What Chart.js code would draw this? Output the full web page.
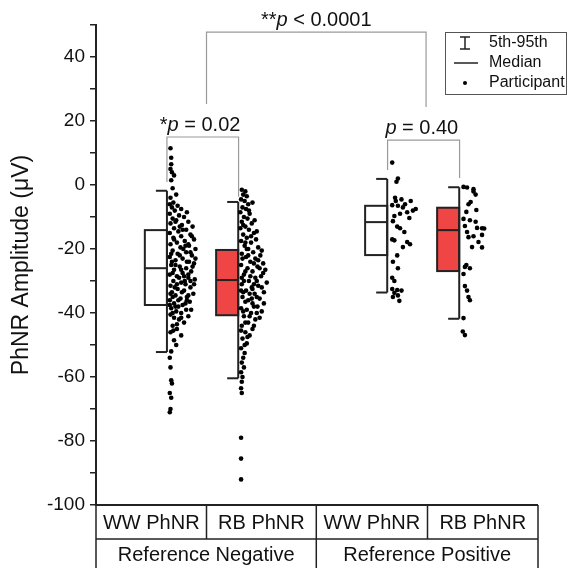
<!DOCTYPE html>
<html>
<head>
<meta charset="utf-8">
<script src="https://cdn.jsdelivr.net/npm/chart.js@4/dist/chart.umd.min.js"></script>
<style>
  html, body { margin: 0; padding: 0; background: #fff; }
  #wrap { width: 568px; height: 568px; }
</style>
</head>
<body>
<div id="wrap"><canvas id="chart"></canvas></div>
<script>
// categories
const groupNames = ['WW PhNR', 'RB PhNR', 'WW PhNR', 'RB PhNR'];
const refNames = ['Reference Negative', 'Reference Positive'];
const groupPos = [0.84, 1.84, 3.93, 4.94];
const fills = ['#ffffff', '#ef4545', '#ffffff', '#ef4545'];

// box stats (5th, 25th, median, 75th, 95th)
const p05 = [-52.2, -60.4, -33.6, -41.8];
const q1 = [-37.5, -40.7, -21.9, -26.9];
const med = [-26.0, -29.7, -11.6, -14.1];
const q3 = [-14.1, -20.3, -6.5, -7.1];
const p95 = [-1.8, -5.3, 1.9, -0.7];

// participants: [offset right of whisker, amplitude]
const wwNeg = [
  [0.05,11.5],[0.06,8.5],[0.06,6.5],[0.05,5],[0.07,4],[0.1,3],[0.06,1.5],[0.08,-1],[0.13,-3],[0.05,-4],
  [0.09,-5.5],[0.04,-6],[0.15,-6.5],[0.07,-7],[0.2,-7.5],[0.11,-8],[0.04,-9],[0.17,-9.5],[0.24,-10],[0.08,-10.5],
  [0.13,-11],[0.3,-11.5],[0.05,-12],[0.21,-12.5],[0.36,-13],[0.1,-13.5],[0.27,-14],[0.16,-14.5],[0.04,-15],[0.33,-15.5],
  [0.2,-16],[0.09,-16.5],[0.38,-17],[0.25,-17.5],[0.14,-18],[0.05,-18.5],[0.31,-19],[0.19,-19.5],[0.4,-20],[0.08,-20.5],
  [0.27,-21],[0.15,-21.5],[0.35,-22],[0.04,-22.5],[0.22,-23],[0.12,-23.5],[0.31,-24],[0.38,-24.5],[0.06,-25],[0.18,-25.5],
  [0.27,-26],[0.1,-26.5],[0.34,-27],[0.22,-27.5],[0.04,-28],[0.14,-28.5],[0.3,-29],[0.39,-29.5],[0.09,-30],[0.2,-30.5],
  [0.26,-31],[0.05,-31.5],[0.33,-32],[0.15,-32.5],[0.24,-33],[0.07,-33.5],[0.37,-34],[0.12,-34.5],[0.28,-35],[0.19,-35.5],
  [0.04,-36],[0.32,-36.5],[0.1,-37],[0.22,-37.5],[0.16,-38],[0.06,-38.5],[0.27,-39],[0.13,-39.5],[0.2,-40],[0.05,-40.5],
  [0.3,-41],[0.1,-41.5],[0.17,-42],[0.24,-43],[0.08,-44],[0.14,-45],[0.05,-46],[0.2,-47],[0.1,-48.5],[0.13,-50],
  [0.06,-52],[0.04,-54],[0.05,-57],[0.06,-61],[0.07,-62],[0.04,-65],[0.06,-66.5],[0.05,-70],[0.04,-71],
  [0.28,-8.5],[0.12,-11.5],[0.22,-14],[0.35,-16],[0.1,-17],[0.3,-18.5],[0.23,-20],[0.06,-21.5],[0.18,-22],[0.4,-23],
  [0.28,-24],[0.12,-25],[0.36,-25.5],[0.2,-26.5],[0.08,-27.5],[0.3,-28],[0.17,-29],[0.25,-30],[0.38,-31],[0.11,-32],
  [0.21,-33.5],[0.3,-34.5],[0.08,-35],[0.16,-36],[0.26,-37],[0.04,-37.5],[0.12,-38],[0.34,-39],[0.08,-40],[0.2,-41.5],
  [0.14,-43.5],[0.09,-45.5],[0.18,-13],[0.26,-19],[0.33,-21],[0.07,-24],[0.24,-28.5],[0.33,-30],[0.14,-31],[0.05,-34],
  [0.28,-36]
];
const rbNeg = [
  [0.05,-1.5],[0.1,-2],[0.07,-3],[0.12,-3.5],[0.04,-4.5],[0.09,-5],[0.14,-6],[0.06,-7],[0.11,-7.5],[0.03,-8.5],
  [0.16,-9],[0.08,-10],[0.13,-10.5],[0.05,-11.5],[0.19,-12],[0.1,-13],[0.03,-13.5],[0.15,-14],[0.22,-15],[0.07,-15.5],
  [0.12,-16.5],[0.25,-17],[0.04,-17.5],[0.18,-18],[0.09,-19],[0.28,-19.5],[0.14,-20],[0.21,-21],[0.05,-21.5],[0.31,-22],
  [0.11,-22.5],[0.24,-23],[0.17,-24],[0.35,-24.5],[0.04,-25],[0.27,-25.5],[0.13,-26],[0.38,-26.5],[0.2,-27],[0.08,-28],
  [0.32,-28.5],[0.24,-29],[0.15,-30],[0.4,-30.5],[0.05,-31],[0.28,-31.5],[0.19,-32],[0.11,-33],[0.36,-33.5],[0.23,-34],
  [0.06,-35],[0.3,-35.5],[0.14,-36],[0.2,-37],[0.27,-38],[0.04,-38.5],[0.12,-39],[0.33,-39.5],[0.18,-40],[0.08,-41],
  [0.24,-42],[0.14,-43],[0.05,-44],[0.2,-45],[0.1,-46],[0.16,-47],[0.06,-48],[0.12,-49.5],[0.04,-51],[0.09,-52.5],
  [0.07,-54],[0.05,-55.5],[0.08,-57],[0.04,-58.5],[0.06,-60],[0.05,-61.5],[0.04,-63.5],[0.05,-65],[0.04,-79],[0.04,-85.5],
  [0.04,-92],
  [0.2,-5.5],[0.15,-8],[0.23,-11],[0.07,-12.5],[0.26,-14.5],[0.18,-16],[0.1,-18],[0.33,-20.5],[0.06,-23],[0.22,-24.5],
  [0.3,-26],[0.1,-27],[0.35,-27.5],[0.17,-28.5],[0.26,-30],[0.08,-30],[0.22,-31],[0.33,-32],[0.04,-33],[0.16,-34],
  [0.26,-35],[0.1,-36.5],[0.36,-37],[0.22,-38],[0.07,-39.5],[0.16,-41],[0.3,-41.5],[0.1,-43],[0.22,-44],[0.04,-45.5],
  [0.13,-47.5],[0.09,-50],[0.14,-22],[0.28,-23.5],[0.05,-29],[0.19,-35.5],[0.12,-20],[0.07,-33.5],[0.26,-40],[0.2,-32.5]
];
const wwPos = [
  [0.07,7],[0.15,2],[0.13,1],[0.11,-4],[0.2,-4.5],[0.33,-5],[0.07,-6.3],[0.15,-6.5],[0.22,-7],[0.36,-8],
  [0.28,-8.5],[0.18,-9],[0.1,-9.7],[0.31,-10.3],[0.08,-11.3],[0.14,-13],[0.18,-13.5],[0.24,-14.7],[0.07,-17],[0.1,-17.3],
  [0.28,-17.8],[0.32,-18.5],[0.22,-19.4],[0.14,-22],[0.08,-24],[0.15,-26],[0.07,-29],[0.1,-30],[0.07,-32.5],[0.14,-32.8],
  [0.2,-33],[0.1,-33.7],[0.15,-34.5],[0.08,-35],[0.17,-36.2],[0.4,-7.5],[0.25,-6],[0.12,-5]
];
const rbPos = [
  [0.06,-0.6],[0.11,-0.8],[0.2,-1.3],[0.2,-2],[0.23,-3],[0.16,-5.3],[0.13,-6],[0.1,-8.4],[0.24,-7.8],[0.06,-10.6],
  [0.15,-11],[0.23,-11.5],[0.08,-12.8],[0.25,-13.4],[0.32,-13.5],[0.35,-13.6],[0.11,-14.7],[0.2,-16],[0.32,-15.6],[0.13,-16.3],
  [0.27,-17.8],[0.18,-19.4],[0.32,-19.5],[0.08,-25.6],[0.15,-26],[0.06,-27.8],[0.08,-31.6],[0.11,-33],[0.13,-35],[0.15,-36],
  [0.06,-41.6],[0.08,-46.9],[0.05,-45.8],[0.1,-25]
];
const participants = [wwNeg, rbNeg, wwPos, rbPos];

// significance brackets: [x1, x2, yTop, yLeftEnd, yRightEnd, labelX]
const brackets = [
  [1.55, 4.63, 47.8, 25.3, 24.4, 3.09],
  [0.995, 2.0, 15, 0.9, -3.7, 1.46],
  [4.09, 5.1, 14, 4.7, 2.2, 4.57]
];
// label parts: [text, italic]
const pLabels = [
  [['**', false], ['p', true], [' < 0.0001', false]],
  [['*', false], ['p', true], [' = 0.02', false]],
  [['p', true], [' = 0.40', false]]
];

// table cell edges (x units)
const cellEdges = [0, 1.55, 3.09, 4.65, 6.2];

const BOX_HALF = 0.155;
const FONT = "'Liberation Sans', Arial, sans-serif";
const INK = '#222';

const datasets = participants.map((pts, i) => ({
  label: groupNames[i],
  data: pts.map(p => ({ x: groupPos[i] + BOX_HALF + p[0], y: p[1] })),
  backgroundColor: '#000',
  borderWidth: 0,
  pointRadius: 2.3,
  pointHoverRadius: 2.3
}));

function line(ctx, x1, y1, x2, y2) {
  ctx.beginPath();
  ctx.moveTo(x1, y1);
  ctx.lineTo(x2, y2);
  ctx.stroke();
}

function richText(ctx, parts, cx, baseline, size) {
  let w = 0;
  parts.forEach(p => {
    ctx.font = (p[1] ? 'italic ' : '') + size + 'px ' + FONT;
    w += ctx.measureText(p[0]).width;
  });
  let x = cx - w / 2;
  ctx.textAlign = 'left';
  ctx.textBaseline = 'alphabetic';
  parts.forEach(p => {
    ctx.font = (p[1] ? 'italic ' : '') + size + 'px ' + FONT;
    ctx.fillText(p[0], x, baseline);
    x += ctx.measureText(p[0]).width;
  });
}

const boxPlugin = {
  id: 'boxes',
  beforeDatasetsDraw(chart) {
    const ctx = chart.ctx;
    const xs = chart.scales.x, ys = chart.scales.y;
    ctx.save();
    ctx.strokeStyle = INK;
    ctx.lineWidth = 2;
    groupPos.forEach((g, i) => {
      const xl = xs.getPixelForValue(g - BOX_HALF);
      const xc = xs.getPixelForValue(g);
      const xr = xs.getPixelForValue(g + BOX_HALF);
      const yTop = ys.getPixelForValue(q3[i]);
      const yBot = ys.getPixelForValue(q1[i]);
      ctx.fillStyle = fills[i];
      ctx.fillRect(xl, yTop, xr - xl, yBot - yTop);
      ctx.strokeRect(xl, yTop, xr - xl, yBot - yTop);
      const ym = ys.getPixelForValue(med[i]);
      line(ctx, xl, ym, xr, ym);
      const yh = ys.getPixelForValue(p95[i]);
      const yl = ys.getPixelForValue(p05[i]);
      line(ctx, xr, yh, xr, yl);
      line(ctx, xc, yh, xr, yh);
      line(ctx, xc, yl, xr, yl);
    });
    ctx.restore();
  },
  afterDraw(chart) {
    const ctx = chart.ctx;
    const xs = chart.scales.x, ys = chart.scales.y;
    const area = chart.chartArea;
    ctx.save();

    // brackets
    ctx.strokeStyle = '#9a9a9a';
    ctx.lineWidth = 1.2;
    ctx.fillStyle = '#111';
    brackets.forEach((b, i) => {
      const x1 = xs.getPixelForValue(b[0]);
      const x2 = xs.getPixelForValue(b[1]);
      const yt = ys.getPixelForValue(b[2]);
      ctx.beginPath();
      ctx.moveTo(x1, ys.getPixelForValue(b[3]));
      ctx.lineTo(x1, yt);
      ctx.lineTo(x2, yt);
      ctx.lineTo(x2, ys.getPixelForValue(b[4]));
      ctx.stroke();
      richText(ctx, pLabels[i], xs.getPixelForValue(b[5]), yt - 6, 20);
    });

    // category table below the axis
    const bottom = chart.height;
    const rowY = area.bottom + 34;
    ctx.strokeStyle = INK;
    ctx.lineWidth = 1.5;
    const ex = cellEdges.map(v => xs.getPixelForValue(v));
    line(ctx, ex[0], rowY, ex[4], rowY);
    ex.forEach((x, i) => {
      line(ctx, x, area.bottom, x, i % 2 === 0 ? bottom : rowY);
    });
    ctx.lineWidth = 2;
    line(ctx, area.left - 1, area.bottom, ex[4], area.bottom);
    ctx.fillStyle = '#111';
    ctx.font = '20px ' + FONT;
    ctx.textAlign = 'center';
    ctx.textBaseline = 'middle';
    groupNames.forEach((n, i) => {
      ctx.fillText(n, (ex[i] + ex[i + 1]) / 2, area.bottom + 18);
    });
    refNames.forEach((n, i) => {
      ctx.fillText(n, (ex[i * 2] + ex[i * 2 + 2]) / 2, rowY + 16);
    });

    // legend
    ctx.lineWidth = 1;
    ctx.strokeStyle = '#555';
    ctx.strokeRect(445.5, 32.5, 121, 62);
    ctx.strokeStyle = INK;
    ctx.lineWidth = 1.5;
    line(ctx, 465, 37, 465, 49);
    line(ctx, 460, 37, 470, 37);
    line(ctx, 460, 49, 470, 49);
    line(ctx, 454, 63, 478, 63);
    ctx.fillStyle = '#000';
    ctx.beginPath();
    ctx.arc(465, 83, 2, 0, Math.PI * 2);
    ctx.fill();
    ctx.fillStyle = '#111';
    ctx.font = '16px ' + FONT;
    ctx.textAlign = 'left';
    ctx.textBaseline = 'middle';
    ctx.fillText('5th-95th', 489, 43);
    ctx.fillText('Median', 489, 63);
    ctx.fillText('Participant', 489, 83);

    ctx.restore();
  }
};

new Chart(document.getElementById('chart'), {
  type: 'scatter',
  data: { datasets },
  plugins: [boxPlugin],
  options: {
    responsive: true,
    maintainAspectRatio: false,
    animation: false,
    events: [],
    layout: { padding: { top: 25, right: 30, bottom: 63, left: 0 } },
    plugins: { legend: { display: false }, tooltip: { enabled: false } },
    scales: {
      x: { type: 'linear', min: 0, max: 6.2, display: false },
      y: {
        min: -100,
        max: 50,
        afterFit(scale) { scale.width = 96; },
        border: { display: true, color: INK, width: 2 },
        grid: { drawOnChartArea: false, drawTicks: true, tickLength: 6, color: INK, lineWidth: 1.5 },
        ticks: {
          stepSize: 10,
          padding: 5,
          color: '#111',
          font: { family: FONT, size: 19 },
          callback: v => (v % 20 === 0 && v !== 50 ? String(v) : '')
        },
        title: {
          display: true,
          text: 'PhNR Amplitude (μV)',
          color: '#111',
          font: { family: FONT, size: 23 },
          padding: { top: 8, bottom: 0 }
        }
      }
    }
  }
});
</script>
</body>
</html>
